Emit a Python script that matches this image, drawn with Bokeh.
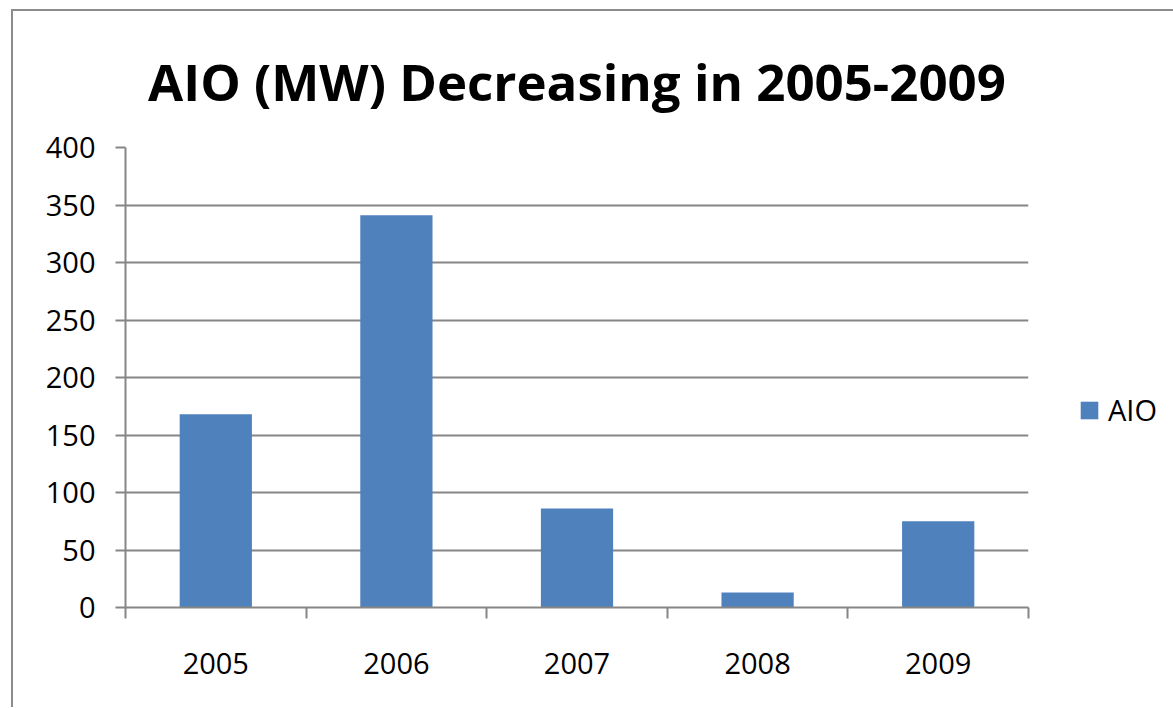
from bokeh.plotting import figure
from bokeh.models import ColumnDataSource, FixedTicker, Range1d, Legend, LegendItem
from bokeh.embed import file_html
from bokeh.resources import INLINE

years = ["2005", "2006", "2007", "2008", "2009"]
aio = [168, 341, 86, 13, 75]
y_ticks = [0, 50, 100, 150, 200, 250, 300, 350, 400]
series_name = "AIO"
title_text = "AIO (MW) Decreasing in 2005-2009"

xpos = [i + 0.5 for i in range(len(years))]
src = ColumnDataSource(dict(x=xpos, top=aio, year=years))

GRAY = "#868686"
BLUE = "#4F81BD"
FONT = "Open Sans"

p = figure(width=1158, height=695, output_backend="svg", toolbar_location=None,
           x_range=Range1d(0, len(years)), y_range=Range1d(0, 400),
           frame_width=903, frame_height=460,
           min_border_left=112, min_border_top=135, min_border_right=143, min_border_bottom=100)
p.margin = (9, 0, 0, 11)
p.styles = {"border-left": "2px solid #8c8c8c", "border-top": "2px solid #8c8c8c",
            "border-right": "none", "border-bottom": "none"}
p.outline_line_color = None
p.background_fill_color = "white"
p.border_fill_color = "white"

r = p.vbar(x="x", top="top", bottom=0, width=0.40, source=src, fill_color=BLUE, line_color=None)

p.title.text = title_text
p.title.align = "center"
p.title.text_font = FONT
p.title.text_font_size = "51px"
p.title.text_font_style = "bold"
p.title.text_color = "black"
p.title.standoff = 64

xa = p.xaxis[0]
xa.ticker = FixedTicker(ticks=xpos, minor_ticks=list(range(len(years) + 1)))
xa.major_label_overrides = {x: y for x, y in zip(xpos, years)}
xa.major_tick_out = 0
xa.major_tick_in = 0
xa.minor_tick_out = 11
xa.minor_tick_in = 0
xa.minor_tick_line_color = GRAY
xa.minor_tick_line_width = 2
xa.axis_line_color = GRAY
xa.axis_line_width = 2
xa.major_label_standoff = 34
xa.major_label_text_font = FONT
xa.major_label_text_font_size = "29px"
xa.major_label_text_color = "black"

ya = p.yaxis[0]
ya.ticker = FixedTicker(ticks=y_ticks)
ya.minor_tick_line_color = None
ya.major_tick_out = 10
ya.major_tick_in = 0
ya.major_tick_line_color = GRAY
ya.major_tick_line_width = 2
ya.axis_line_color = GRAY
ya.axis_line_width = 2
ya.major_label_standoff = 20
ya.major_label_text_font = FONT
ya.major_label_text_font_size = "29px"
ya.major_label_text_color = "black"

p.xgrid.grid_line_color = None
p.ygrid.ticker = FixedTicker(ticks=y_ticks)
p.ygrid.grid_line_color = GRAY
p.ygrid.grid_line_width = 2

legend = Legend(items=[LegendItem(label=series_name, renderers=[r])],
                location=(50, 178), orientation="vertical")
legend.glyph_width = 22
legend.glyph_height = 22
legend.label_standoff = 8
legend.label_text_font = FONT
legend.label_text_font_size = "29px"
legend.label_text_color = "black"
legend.border_line_color = None
legend.background_fill_alpha = 0
legend.padding = 0
legend.margin = 0
p.add_layout(legend, "right")

open("out.html", "w").write(file_html(p, INLINE))
